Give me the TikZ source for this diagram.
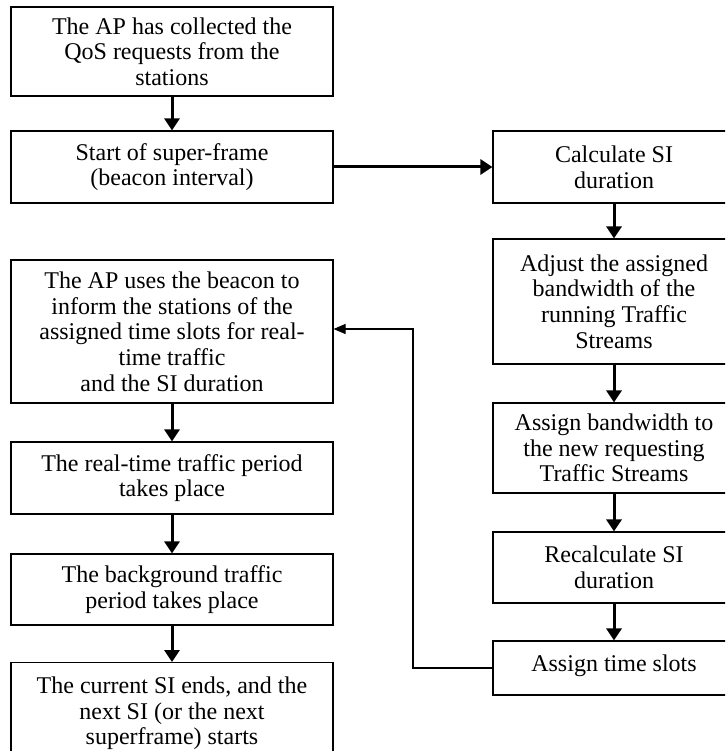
\documentclass[tikz,border=0pt]{standalone}
\usepackage{fontspec}
\setmainfont{Liberation Serif}
\usetikzlibrary{arrows.meta}
\begin{document}
\begin{tikzpicture}[x=1pt,y=-1pt,
  box/.style={draw=black, line width=1.1pt, rectangle, align=center, inner sep=0pt,
    font=\fontsize{24}{25.7}\selectfont},
  lbox/.style={box, minimum width=322pt},
  rbox/.style={box, minimum width=242pt},
  flow/.style={line width=3pt, -{Triangle[length=12pt,width=15pt]}},
  back/.style={line width=1.1pt, -{Triangle[length=12pt,width=10pt]}}]
\useasboundingbox (0,0) rectangle (725,751);
\clip (0,0) rectangle (725,751);
% left column
\node[lbox, minimum height=89pt] (a1) at (172,51.5) {The AP has collected the\\QoS requests from the\\stations};
\node[lbox, minimum height=72pt] (a2) at (172,167) {Start of super-frame\\(beacon interval)};
\node[lbox, minimum height=143pt] (a3) at (172,331.5) {The AP uses the beacon to\\inform the stations of the\\assigned time slots for real-\\time traffic\\and the SI duration};
\node[lbox, minimum height=72pt] (a4) at (172,478) {The real-time traffic period\\takes place\rule[-4pt]{0pt}{1pt}};
\node[lbox, minimum height=71pt] (a5) at (172,589.5) {The background traffic\\period takes place};
\node[lbox, minimum height=92pt, anchor=north] (a6) at (172,662) {\rule{0pt}{26pt}The current SI ends, and the\\next SI (or the next\\superframe) starts};
% right column
\node[rbox, minimum height=72pt] (b1) at (614,167) {Calculate SI\\duration};
\node[rbox, minimum height=125pt] (b2) at (614,301.5) {Adjust the assigned\\bandwidth of the\\running Traffic\\Streams};
\node[rbox, minimum height=90pt] (b3) at (614,448) {Assign bandwidth to\\the new requesting\\Traffic Streams};
\node[rbox, minimum height=71pt] (b4) at (614,567.5) {Recalculate SI\\duration};
\node[rbox, minimum height=54pt] (b5) at (614,668) {Assign time slots\rule[-10pt]{0pt}{1pt}};
\coordinate (turn) at (413,329);
% connectors
\draw[flow] (a1) -- (a2);
\draw[flow] (a3) -- (a4);
\draw[flow] (a4) -- (a5);
\draw[flow] (a5) -- (a6);
\draw[flow] (a2.east) -- (b1.west);
\draw[flow] (b1) -- (b2);
\draw[flow] (b2) -- (b3);
\draw[flow] (b3) -- (b4);
\draw[flow] (b4) -- (b5);
\draw[back] (b5.west) -| (turn) -- (a3.east |- turn);
\end{tikzpicture}
\end{document}
